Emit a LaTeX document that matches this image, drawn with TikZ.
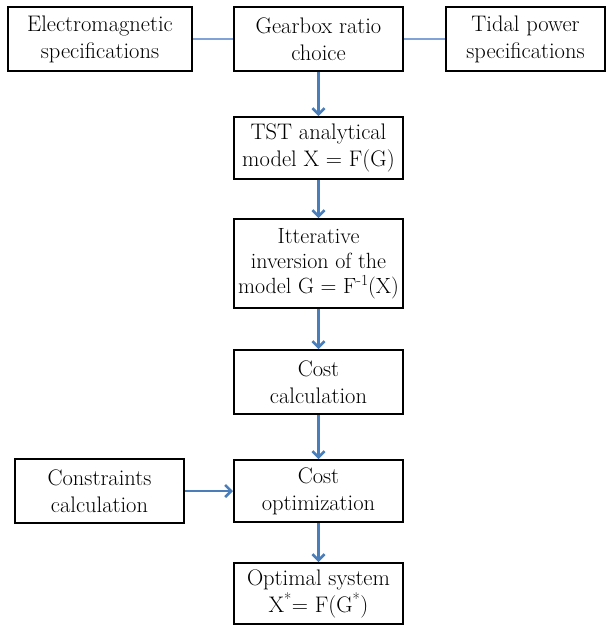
\documentclass[tikz,border=0pt]{standalone}
\usetikzlibrary{arrows.meta}
\definecolor{arrowblue}{HTML}{4A7EBB}
\definecolor{lineblue}{HTML}{7FA3D6}
\begin{document}
\begin{tikzpicture}[x=1pt,y=-1pt,
  box/.style={draw=black,line width=2pt,rectangle,align=center,inner sep=0pt,
    font=\fontsize{22.5}{27}\selectfont,minimum width=169pt,minimum height=64pt},
  flow/.style={draw=arrowblue,line width=2.6pt,-{Straight Barb[length=6pt,width=12pt,line width=2.6pt]}},
  link/.style={draw=lineblue,line width=1.6pt}]
\useasboundingbox (0,0) rectangle (606,625);
\node[box,minimum width=184pt] (em) at (100,39) {Electromagnetic\\specifications};
\node[box] (gear) at (318.5,39) {Gearbox ratio\\choice};
\node[box,minimum width=159pt] (tidal) at (525.5,39) {Tidal power\\specifications};
\node[box,minimum height=62pt] (tst) at (318.5,148) {TST analytical\\model X = F(G)};
\node[box,minimum height=89pt,font=\fontsize{22}{25}\selectfont] (itt) at (318.5,263.5) {Itterative\\inversion of the\\model G = F\textsuperscript{-1}\kern-0.5pt(X)};
\node[box] (cc) at (318.5,382) {Cost\\calculation};
\node[box,minimum height=62pt] (co) at (318.5,491) {Cost\\optimization};
\node[box] (cons) at (99.5,491) {Constraints\\calculation};
\node[box,minimum height=61pt] (opt) at (318.5,593.5) {Optimal system\\X\textsuperscript{*}= F(G\textsuperscript{*})};
\draw[link] (em.east) -- (gear.west);
\draw[link] (gear.east) -- (tidal.west);
\draw[flow] (gear.south) -- (tst.north);
\draw[flow] (tst.south) -- (itt.north);
\draw[flow] (itt.south) -- (cc.north);
\draw[flow] (cc.south) -- (co.north);
\draw[flow] (co.south) -- (opt.north);
\draw[flow] (cons.east) -- (co.west);
\end{tikzpicture}
\end{document}
